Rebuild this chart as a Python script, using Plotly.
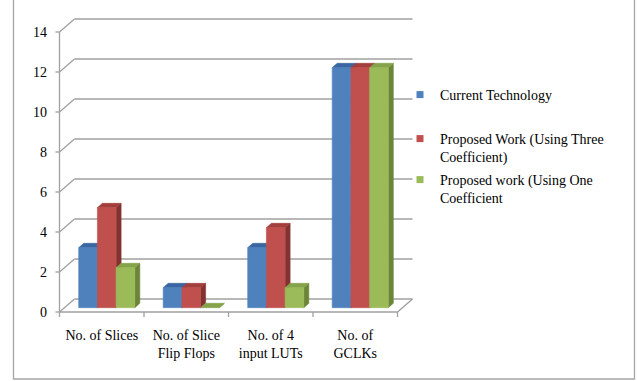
import plotly.graph_objects as go

# ---- data -------------------------------------------------------------
categories = ["No. of Slices", "No. of Slice<br>Flip Flops", "No. of 4<br>input LUTs", "No. of<br>GCLKs"]
series_names = [
    "Current Technology",
    "Proposed Work (Using Three<br>Coefficient)",
    "Proposed work (Using One<br>Coefficient",
]
current_technology = [3, 1, 3, 12]
proposed_three_coeff = [5, 1, 4, 12]
proposed_one_coeff = [2, 0, 1, 12]
y_tick_values = [0, 2, 4, 6, 8, 10, 12, 14]

series_values = [current_technology, proposed_three_coeff, proposed_one_coeff]

# ---- styling ----------------------------------------------------------
front_colors = ["#4F81BD", "#C0504D", "#9BBB59"]
top_colors = ["#3A67A1", "#A23E3B", "#84A34A"]
side_colors = ["#345886", "#823230", "#6A8538"]
grid_color = "#A0A0A0"
font_family = "Liberation Serif, Times New Roman, serif"
font_size = 14

# ---- geometry (pixels -> data units) ----------------------------------
W, H = 637, 381
KX, KY = 84.5, 20.0               # px per category, px per unit
L_MARGIN, T_MARGIN = 54, 17
PLOT_W, PLOT_H = 364, 303
X_FRONT_LEFT_PX = 59.5            # x pixel of the front-left floor corner
DX, DY = 15 / KX, 13 / KY         # depth of the floor / walls
BX, BY = DX / 3, DY / 3           # depth of each bar
FX, FY = DX / 3, DY / 3           # bars stand one third into the floor
BAR_W = 18.7 / KX
n_series = len(series_values)

x_lo = -0.5 - (X_FRONT_LEFT_PX - L_MARGIN) / KX
x_hi = x_lo + PLOT_W / KX
y_hi = 14 + DY + 2 / KY
y_lo = y_hi - PLOT_H / KY

fig = go.Figure()

# ---- walls, floor, axis and tick marks --------------------------------
gx, gy = [], []
x_left, x_right = -0.5, len(categories) - 0.5
for v in y_tick_values:
    # back-wall gridline
    gx += [x_left + DX, x_right + DX, None]
    gy += [v + DY, v + DY, None]
    # side-wall diagonal
    gx += [x_left, x_left + DX, None]
    gy += [v, v + DY, None]
    # tick mark on the front axis
    gx += [x_left - 4 / KX, x_left, None]
    gy += [v, v, None]
# front axis line
gx += [x_left, x_left, None]
gy += [0, y_tick_values[-1], None]
# floor front edge and right diagonal
gx += [x_left, x_right, x_right + DX, None]
gy += [0, 0, DY, None]
# category separators below the floor
for i in range(len(categories) + 1):
    b = x_left + i
    gx += [b, b, None]
    gy += [0, -5 / KY, None]

fig.add_trace(go.Scatter(
    x=gx, y=gy, mode="lines",
    line=dict(color=grid_color, width=1.3),
    hoverinfo="skip", showlegend=False,
))


def face(xs, ys, color):
    return go.Scatter(
        x=xs + [xs[0]], y=ys + [ys[0]], mode="lines", fill="toself",
        fillcolor=color, line=dict(color=color, width=0.6),
        hoverinfo="skip", showlegend=False,
    )


# ---- 3-D bars, painted left to right ----------------------------------
for i in range(len(categories)):
    for k in range(n_series):
        v = series_values[k][i]
        x0 = i - n_series * BAR_W / 2 + k * BAR_W + FX
        x1 = x0 + BAR_W
        yb = FY
        yt = FY + v
        fig.add_trace(face([x1, x1 + BX, x1 + BX, x1], [yb, yb + BY, yt + BY, yt], side_colors[k]))
        fig.add_trace(face([x0, x1, x1 + BX, x0 + BX], [yt, yt, yt + BY, yt + BY], top_colors[k]))
        if v > 0:
            fig.add_trace(face([x0, x1, x1, x0], [yb, yb, yt, yt], front_colors[k]))

# ---- legend entries ---------------------------------------------------
legend_ids = ["legend", "legend2", "legend3"]
legend_text_px_y = [95, 139, 180]   # y of each entry's first line


def px_to_paper_x(px):
    return (px - L_MARGIN) / PLOT_W


def px_to_paper_y(py):
    return (T_MARGIN + PLOT_H - py) / PLOT_H


legend_layouts = {}
for k in range(n_series):
    fig.add_trace(go.Scatter(
        x=[None], y=[None], mode="markers", name=series_names[k],
        marker=dict(symbol="square", size=7, color=front_colors[k]),
        legend=legend_ids[k],
    ))
    legend_layouts[legend_ids[k]] = dict(
        x=px_to_paper_x(400), y=px_to_paper_y(legend_text_px_y[k] - 16),
        xanchor="left", yanchor="top", valign="top",
        bgcolor="rgba(0,0,0,0)", borderwidth=0,
        font=dict(family=font_family, size=font_size, color="#000000"),
    )

fig.update_layout(
    width=W, height=H,
    margin=dict(l=L_MARGIN, r=W - L_MARGIN - PLOT_W, t=T_MARGIN, b=H - T_MARGIN - PLOT_H),
    paper_bgcolor="white", plot_bgcolor="white",
    font=dict(family=font_family, size=font_size, color="#000000"),
    xaxis=dict(
        range=[x_lo, x_hi], tickvals=list(range(len(categories))), ticktext=categories,
        ticks="", showgrid=False, zeroline=False, showline=False,
        ticklabelstandoff=5, fixedrange=True,
    ),
    yaxis=dict(
        range=[y_lo, y_hi], tickvals=y_tick_values, ticks="",
        showgrid=False, zeroline=False, showline=False,
        ticklabelstandoff=6, fixedrange=True,
    ),
    shapes=[dict(
        type="rect", xref="paper", yref="paper", layer="below",
        x0=px_to_paper_x(13.5), x1=px_to_paper_x(634.5),
        y0=px_to_paper_y(379), y1=px_to_paper_y(-5),
        line=dict(color="#A6A6A6", width=1.3),
    )],
    **legend_layouts,
)

fig.write_html("out.html")
